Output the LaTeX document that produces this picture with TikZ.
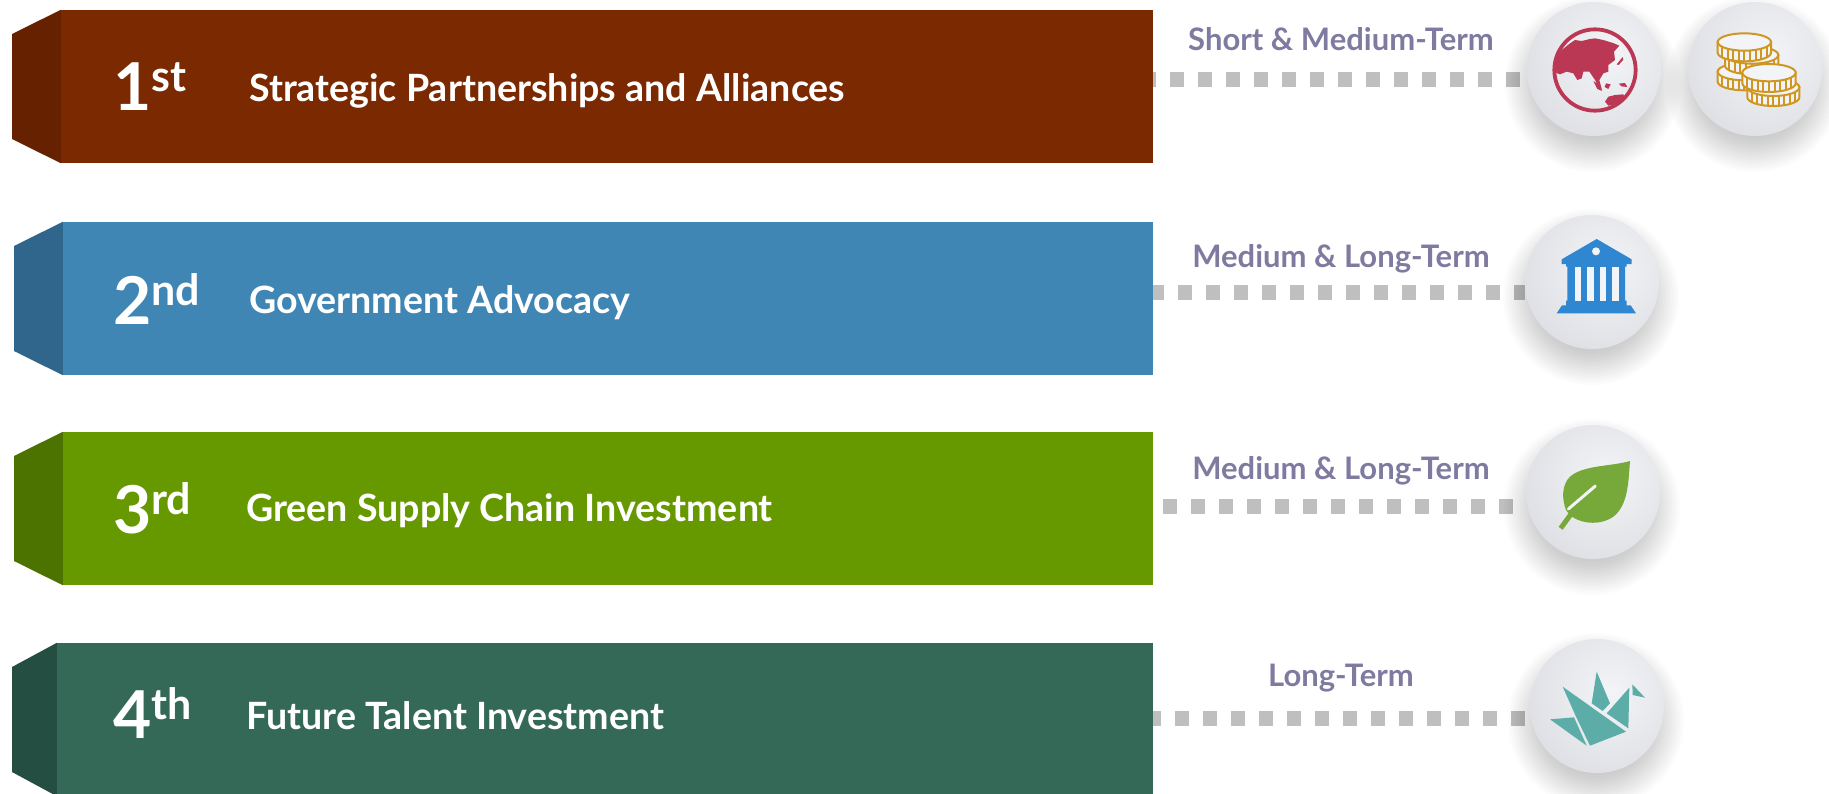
\documentclass[tikz,border=0pt]{standalone}
\usepackage{fontspec}
\setmainfont{Lato}
\usetikzlibrary{calc,backgrounds}
\definecolor{barA}{HTML}{7B2900}\definecolor{sideA}{HTML}{662200}
\definecolor{barB}{HTML}{3F86B5}\definecolor{sideB}{HTML}{30668C}
\definecolor{barC}{HTML}{669900}\definecolor{sideC}{HTML}{4C7200}
\definecolor{barD}{HTML}{336956}\definecolor{sideD}{HTML}{254E42}
\definecolor{termcol}{HTML}{7F7BA0}\definecolor{dotcol}{HTML}{BFBFBF}
\definecolor{globecol}{HTML}{BB3855}\definecolor{coincol}{HTML}{CF9722}
\definecolor{bankcol}{HTML}{2F86D1}\definecolor{leafcol}{HTML}{76A83A}
\definecolor{birdcol}{HTML}{5CADA8}
\definecolor{btnA}{HTML}{F3F4F7}\definecolor{btnC}{HTML}{DCDDE2}
\newcommand{\ranktext}[2]{{\fontsize{66}{66}\selectfont #1\raisebox{19pt}{\fontsize{43}{43}\selectfont #2}}}
\newcommand{\btnshadow}[1]{\foreach \k in {0,...,17}{\fill[black,opacity=.010] ($(#1)+(-1,15)$) circle[radius={54+\k*2.0}];}}
\newcommand{\btnface}[1]{\begin{scope}\clip (#1.center) circle[radius=67];\shade[inner color=btnA,outer color=btnC] ($(#1.center)+(14,-14)$) circle[radius=100];\end{scope}}
\newcommand{\coinshape}[5]{% cx cy rx ry h
  \draw[coinline,fill=btnA] (#1-#3,#2) -- (#1-#3,#2+#5) arc[start angle=180,end angle=360,x radius=#3,y radius=-#4] -- (#1+#3,#2) -- cycle;
  \draw[coinline,fill=btnA] (#1,#2) ellipse[x radius=#3,y radius=#4];
  \foreach \dx in {-0.84,-0.63,-0.42,-0.21,0,0.21,0.42,0.63,0.84}{
    \pgfmathsetmacro\yy{#4*sqrt(1-\dx*\dx)}
    \pgfmathsetmacro\xx{#1+\dx*#3}
    \draw[coinline] (\xx,#2+\yy) -- (\xx,#2+\yy+#5);}
}
\tikzset{
  barbox/.style={draw=none,inner sep=0pt,minimum width=1092pt,minimum height=153pt},
  ranklabel/.style={anchor=base west,inner sep=0pt,text=white,font=\bfseries},
  titlelabel/.style={anchor=base west,inner sep=0pt,text=white,font=\bfseries\fontsize{37.6}{37.6}\selectfont},
  termlabel/.style={anchor=base,inner sep=0pt,text=termcol,font=\bfseries\fontsize{31}{31}\selectfont},
  btn/.style={circle,inner sep=0pt,minimum size=134pt},
  dots/.style={draw=dotcol,line width=15pt,dash pattern=on 14pt off 14pt,dash phase=#1},
  zoomed/.style={shift={#1},x=.33333pt,y=-.33333pt},
  coinline/.style={draw=coincol,line width=2pt},
}
\begin{document}
\begin{tikzpicture}[x=1pt,y=-1pt]
\clip (0,0) rectangle (1829,793);
\useasboundingbox (0,0) rectangle (1829,793);
% bars
\node[barbox,fill=barA] (barone) at (607,86.5) {};
\fill[sideA] (barone.north west) -- (12,34) -- (12,139) -- (barone.south west) -- cycle;
\node[barbox,fill=barB,minimum width=1090pt] (bartwo) at (608,298.5) {};
\fill[sideB] (bartwo.north west) -- (14,246) -- (14,351) -- (bartwo.south west) -- cycle;
\node[barbox,fill=barC,minimum width=1090pt] (barthree) at (608,508.5) {};
\fill[sideC] (barthree.north west) -- (14,456) -- (14,561) -- (barthree.south west) -- cycle;
\node[barbox,fill=barD,minimum width=1096pt] (barfour) at (605,719.5) {};
\fill[sideD] (barfour.north west) -- (12,667) -- (12,772) -- (barfour.south west) -- cycle;
% ranks and titles
\node[ranklabel] (rankone) at (113,110) {\ranktext{1}{st}};
\node[ranklabel] (ranktwo) at (113,324) {\ranktext{2}{nd}};
\node[ranklabel] (rankthree) at (113,533) {\ranktext{3}{rd}};
\node[ranklabel] (rankfour) at (113,738) {\ranktext{4}{th}};
\node[titlelabel] (titleone) at (249,101) {Strategic Partnerships and Alliances};
\node[titlelabel] (titletwo) at (249,313) {Government Advocacy};
\node[titlelabel] (titlethree) at (246,521) {Green Supply Chain Investment};
\node[titlelabel] (titlefour) at (246,729) {Future Talent Investment};
% terms
\node[termlabel] (termone) at (1341,50) {Short \& Medium-Term};
\node[termlabel] (termtwo) at (1341,267) {Medium \& Long-Term};
\node[termlabel] (termthree) at (1341,479) {Medium \& Long-Term};
\node[termlabel] (termfour) at (1341,686) {Long-Term};
% buttons
\node[btn] (globe) at (1594,69) {};
\node[btn] (coins) at (1755,69) {};
\node[btn] (bank) at (1592,282) {};
\node[btn] (leaf) at (1593,492) {};
\node[btn] (bird) at (1597,706) {};
\coordinate (dotone) at (1153,79.5);
\coordinate (dottwo) at (1153,292);
\coordinate (dotthree) at (1153,506);
\coordinate (dotfour) at (1153,718);
\begin{scope}[on background layer]
\draw[dots=11pt] (barone.east |- dotone) -- (dotone -| globe.west);
\draw[dots=3pt] (bartwo.east |- dottwo) -- (dottwo -| bank.west);
\draw[dots=18pt] (barthree.east |- dotthree) -- (dotthree -| leaf.west);
\draw[dots=6pt] (barfour.east |- dotfour) -- (dotfour -| bird.west);
\btnshadow{globe}\btnshadow{coins}\btnshadow{bank}\btnshadow{leaf}\btnshadow{bird}
\btnface{globe}\btnface{coins}\btnface{bank}\btnface{leaf}\btnface{bird}
\end{scope}
% globe icon
\begin{scope}[zoomed={(1540,15)}]
\draw[globecol,line width=3.8pt] (165,165) circle[radius=122];
\fill[globecol] (42,172) -- (60,178) -- (80,170) -- (100,175) -- (112,195) -- (125,190) -- (130,170) -- (148,170) -- (165,195) -- (175,215) -- (186,225) -- (178,195) -- (190,175) -- (205,170) -- (205,150) -- (225,135) -- (222,110) -- (238,92) -- (222,85) -- (190,75) -- (165,70) -- (150,72) -- (125,78) -- (105,75) -- (90,85) -- (65,105) -- (50,130) -- cycle;
\fill[globecol] (230,148) -- (248,126) -- (250,134) -- (236,150) -- cycle;
\fill[globecol] (198,205) -- (212,208) -- (205,222) -- (194,216) -- cycle;
\fill[globecol] (236,206) -- (255,204) -- (262,216) -- (244,214) -- cycle;
\fill[globecol] (160,198) -- (175,208) -- (186,228) -- (172,222) -- cycle;
\fill[globecol] (195,260) -- (205,245) -- (225,240) -- (250,238) -- (256,252) -- (240,262) -- (220,270) -- (205,272) -- cycle;
\end{scope}
% coins icon
\begin{scope}[zoomed={(1705,20)}]
\coinshape{118}{155}{80}{26}{30}
\coinshape{140}{105}{80}{26}{32}
\coinshape{118}{66}{80}{26}{32}
\coinshape{205}{202}{78}{26}{30}
\coinshape{192}{158}{80}{26}{32}
\end{scope}
% bank icon
\begin{scope}[zoomed={(1500,200)}]
\fill[bankcol] (290,117) -- (395,178) -- (395,192) -- (380,192) -- (380,200) -- (375,200) -- (375,302) -- (380,302) -- (380,316) -- (392,316) -- (408,340) -- (170,340) -- (186,316) -- (198,316) -- (198,302) -- (202,302) -- (202,200) -- (198,200) -- (198,192) -- (185,192) -- (185,178) -- cycle;
\fill[btnA] (288,154) circle[radius=12];
\foreach \g in {225,262,300,337}{\fill[btnA] (\g,200) rectangle (\g+19,302);}
\end{scope}
% leaf icon
\begin{scope}[zoomed={(1500,415)}]
\fill[leafcol] (390,138) .. controls (330,155) and (250,150) .. (210,185) .. controls (185,210) and (185,250) .. (198,285) .. controls (215,320) and (290,340) .. (340,305) .. controls (385,270) and (385,200) .. (390,138) -- cycle;
\draw[btnA,line width=3pt,line cap=round] (205,282) -- (286,213);
\draw[leafcol,line width=5pt] (182,340) -- (214,296);
\end{scope}
% bird icon
\begin{scope}[zoomed={(1500,625)},birdcol]
\fill (150,283) -- (222,277) -- (260,362) -- cycle;
\fill (188,185) -- (378,320) -- (270,362) -- (228,275) -- cycle;
\fill (290,140) -- (330,235) -- (308,258) -- (275,235) -- cycle;
\fill (388,188) -- (385,310) -- (320,265) -- cycle;
\fill (397,178) -- (435,218) -- (398,210) -- cycle;
\end{scope}
\end{tikzpicture}
\end{document}
